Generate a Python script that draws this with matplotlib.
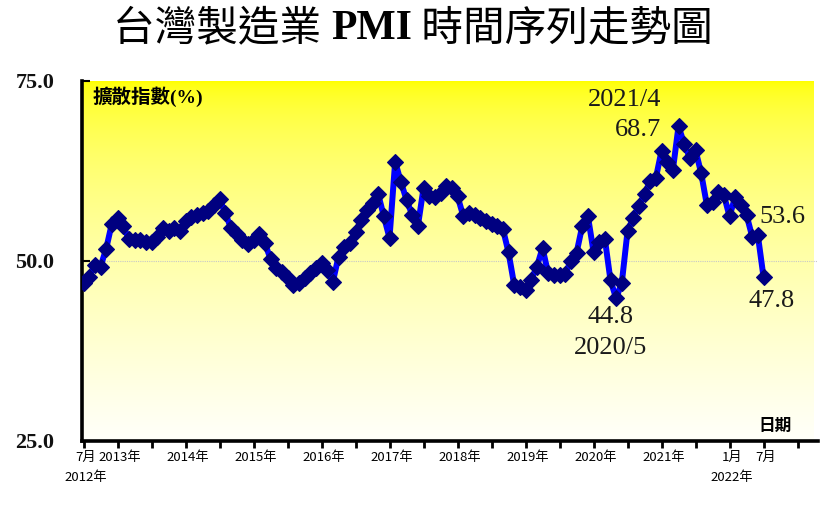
import numpy as np
import matplotlib
matplotlib.use("Agg")
import matplotlib.pyplot as plt
from matplotlib.transforms import ScaledTranslation

# ---------------- data ----------------
# Monthly Taiwan manufacturing PMI, July 2012 .. July 2022
pmi = [46.9, 47.8, 49.5, 49.2, 51.7, 55.2,            # 2012/7-12
       56.0, 54.8, 53.1, 52.9, 52.9, 52.7, 52.7, 53.4, 54.6, 54.2, 54.6, 54.1,   # 2013
       55.5, 56.1, 56.4, 56.6, 56.9, 57.8, 58.6, 56.7, 54.6, 53.7, 52.9, 52.3,   # 2014
       52.9, 53.8, 52.5, 50.3, 49.0, 48.5, 47.6, 46.7, 46.9, 47.6, 48.3, 49.0,   # 2015
       49.7, 48.7, 47.1, 50.6, 52.0, 52.5, 54.0, 55.7, 57.1, 58.0, 59.3, 56.2,   # 2016
       53.2, 63.8, 61.0, 58.5, 56.4, 54.8, 60.1, 59.0, 58.9, 59.4, 60.4, 60.2,   # 2017
       59.0, 56.3, 56.7, 56.4, 56.0, 55.6, 55.2, 54.8, 54.5, 51.2, 46.7, 46.4,   # 2018
       46.0, 47.4, 49.2, 51.8, 48.3, 48.0, 48.0, 48.2, 50.0, 51.1, 54.8, 56.3,   # 2019
       51.3, 52.7, 53.1, 47.3, 44.8, 47.0, 54.1, 56.0, 57.7, 59.3, 61.1, 61.5,   # 2020
       65.3, 63.7, 62.6, 68.7, 66.3, 64.3, 65.4, 62.2, 57.8, 58.2, 59.6, 59.2,   # 2021
       56.2, 58.9, 57.8, 56.4, 53.4, 53.6, 47.8]                                 # 2022/1-7
months = np.arange(len(pmi))

tick_months = list(range(0, 127, 6))
tick_text = {0: "7月", 6: "2013年", 18: "2014年", 30: "2015年", 42: "2016年",
             54: "2017年", 66: "2018年", 78: "2019年", 90: "2020年", 102: "2021年",
             114: "1月", 120: "7月"}
tick_labels = [tick_text.get(m, "") for m in tick_months]
year_row = {0: "2012年", 114: "2022年"}

y_ticks = [25, 50, 75]
y_tick_labels = ["25.0", "50.0", "75.0"]

notes = [  # (month index, text, dx px, dy px, ha)
    (94, "44.8", -6, -19, "center"),
    (94, "2020/5", -6, -50, "center"),
    (105, "68.7", -17, -4, "right"),
    (105, "2021/4", -54, 26, "center"),
    (119, "53.6", 2, 18, "left"),
    (120, "47.8", 8, -24, "center"),
]

# ---------------- figure ----------------
W, H = 832, 512
fig = plt.figure(figsize=(W / 100, H / 100), dpi=100)
fig.patch.set_facecolor("white")

ax_l, ax_r, ax_t, ax_b = 82, 818, 81, 441
ax = fig.add_axes([ax_l / W, 1 - ax_b / H, (ax_r - ax_l) / W, (ax_b - ax_t) / H])

ppm = 34 / 6.0   # pixels per month
x0 = -1.5 / ppm
x1 = x0 + (ax_r - ax_l) / ppm
ax.set_xlim(x0, x1)
ax.set_ylim(25, 75)

# yellow gradient background
s = np.linspace(0, 1, 256).reshape(-1, 1)   # 0 top -> 1 bottom
b = 250 * s ** 0.55
img = np.dstack([np.ones_like(s), np.ones_like(s), b / 255.0])
bg_right = x1 - 4 / ppm
ax.imshow(img, extent=[x0, bg_right, 25, 75], aspect="auto", origin="upper", zorder=0,
          interpolation="bilinear")
ax.set_facecolor("white")

ax.axhline(50, color="#c8c8c8", lw=0.8, ls=(0, (1, 1)), zorder=1)

ax.plot(months, pmi, color="#0000FF", lw=4.3, zorder=3, solid_joinstyle="round")
ax.plot(months, pmi, ls="none", marker="D", ms=8.0, mfc="#000080", mec="#000080",
        mew=0.8, zorder=4)

for m, txt, dx, dy, ha in notes:
    ax.annotate(txt, xy=(m, pmi[m]), xytext=(dx, dy), textcoords="offset pixels",
                ha=ha, va="center", fontsize=19, family=["Liberation Serif"],
                color="#1a1a1a", zorder=5)

# spines
for sp in ["top", "right"]:
    ax.spines[sp].set_visible(False)
ax.spines["left"].set_linewidth(2.6)
ax.spines["bottom"].set_linewidth(2.6)

ax.set_yticks(y_ticks)
ax.set_yticklabels(y_tick_labels, fontsize=16, fontweight="bold",
                   family=["Liberation Serif"], color="#111111")
ax.tick_params(axis="y", direction="in", length=6, width=1.5, pad=20)

ax.set_xticks(tick_months)
ax.set_xticklabels(tick_labels, fontsize=9.5, family=["Noto Sans CJK TC", "DejaVu Sans"])
ax.tick_params(axis="x", direction="out", length=5, width=2, pad=2)
off = ScaledTranslation(2.5 / 100, 0, fig.dpi_scale_trans)
for lab in ax.get_xticklabels():
    lab.set_transform(lab.get_transform() + off)

for m, txt in year_row.items():
    ax.annotate(txt, xy=(m, 0), xycoords=("data", "axes fraction"),
                xytext=(2.5, -36), textcoords="offset pixels", ha="center", va="center",
                fontsize=9.5, family=["Noto Sans CJK TC", "DejaVu Sans"])

ax.text(11 / (ax_r - ax_l), (ax_b - 97) / (ax_b - ax_t), "擴散指數(%)", transform=ax.transAxes,
        ha="left", va="center", fontsize=14, fontweight="bold",
        family=["Liberation Serif", "Noto Sans CJK TC"], zorder=6)
ax.text((775 - ax_l) / (ax_r - ax_l), (ax_b - 426) / (ax_b - ax_t), "日期",
        transform=ax.transAxes, ha="center", va="center", fontsize=12, fontweight="bold",
        family=["Noto Sans CJK TC"], zorder=6)

# title in three parts (CJK normal, PMI bold serif)
parts = [("台灣製造業 ", ["Noto Sans CJK TC"], "normal"),
         ("PMI", ["Liberation Serif"], "bold"),
         (" 時間序列走勢圖", ["Noto Sans CJK TC"], "normal")]
fig.canvas.draw()
r = fig.canvas.get_renderer()
texts = []
for t, fam, wt in parts:
    tt = fig.text(0, 1 - 29 / H, t, fontsize=30, family=fam, fontweight=wt,
                  ha="left", va="center")
    texts.append(tt)
widths = [tt.get_window_extent(r).width for tt in texts]
total = sum(widths)
cx = 413
xpos = cx - total / 2
for tt, w in zip(texts, widths):
    tt.set_x(xpos / W)
    xpos += w

fig.savefig("out.png", dpi=100, facecolor="white")
